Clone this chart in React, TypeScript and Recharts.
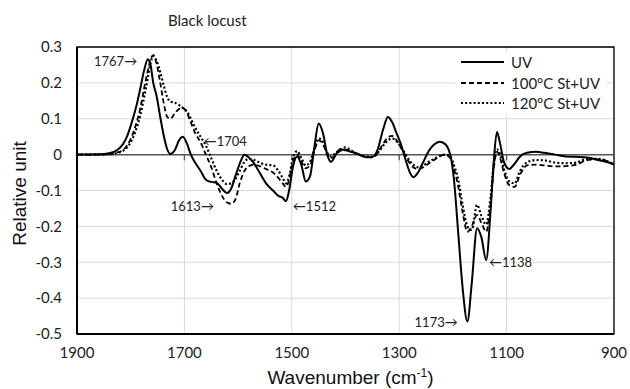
import { LineChart, Line, XAxis, YAxis, CartesianGrid, ReferenceLine, ReferenceArea, ReferenceDot } from 'recharts'

const WAVENUMBER = [
    1900, 1860, 1840, 1825, 1815, 1807, 1798, 1790, 1782, 1775, 1768, 1763, 1758, 1752, 1745, 1738, 1732, 1726, 1718, 1710,
    1703, 1695, 1688, 1680, 1670, 1660, 1650, 1640, 1630, 1621, 1613, 1605, 1597, 1588, 1580, 1570, 1560, 1548, 1535, 1525,
    1517, 1511, 1505, 1498, 1490, 1482, 1474, 1466, 1458, 1450, 1442, 1434, 1427, 1418, 1410, 1400, 1390, 1380, 1370, 1360,
    1349, 1340, 1330, 1321, 1313, 1305, 1297, 1289, 1280, 1274, 1265, 1255, 1245, 1235, 1225, 1215, 1205, 1198, 1190, 1182,
    1173, 1165, 1155, 1147, 1138, 1130, 1124, 1118, 1112, 1105, 1095, 1085, 1075, 1062, 1045, 1030, 1010, 990, 970, 950,
    930, 910, 900,
]

const UV = [
    0, 0.001, 0.004, 0.013, 0.028, 0.05, 0.09, 0.132, 0.185, 0.235, 0.266, 0.25, 0.2, 0.165, 0.105, 0.05, 0.015, 0.002, 0.012, 0.04,
    0.05, 0.03, 0, -0.022, -0.045, -0.07, -0.076, -0.078, -0.095, -0.107, -0.095, -0.06, -0.025, 0, -0.008, -0.025, -0.05, -0.08, -0.1, -0.115,
    -0.12, -0.13, -0.1, -0.035, -0.005, -0.03, -0.075, -0.06, 0.02, 0.087, 0.06, 0, -0.02, 0, 0.015, 0.012, 0.008, 0.004, -0.003, -0.007,
    -0.006, 0.015, 0.07, 0.105, 0.09, 0.06, 0.03, -0.01, -0.05, -0.063, -0.05, -0.02, 0.01, 0.028, 0.036, 0.03, 0, -0.07, -0.22, -0.37,
    -0.465, -0.36, -0.205, -0.23, -0.294, -0.16, -0.02, 0.063, 0.03, -0.02, -0.04, -0.025, -0.005, 0.005, 0.008, 0.005, 0, -0.005, -0.006, -0.008,
    -0.015, -0.022, -0.028,
]

const ST100 = [
    0, 0, 0.002, 0.006, 0.012, 0.025, 0.05, 0.085, 0.13, 0.185, 0.235, 0.265, 0.277, 0.255, 0.2, 0.14, 0.105, 0.1, 0.115, 0.127,
    0.13, 0.115, 0.09, 0.06, 0.035, 0, -0.035, -0.08, -0.115, -0.133, -0.137, -0.125, -0.08, -0.045, -0.032, -0.028, -0.032, -0.04, -0.05, -0.065,
    -0.08, -0.09, -0.07, -0.02, 0, -0.02, -0.038, -0.03, 0.01, 0.04, 0.03, 0, -0.01, 0, 0.01, 0.014, 0.01, 0.003, -0.003, -0.007,
    -0.008, 0.005, 0.03, 0.048, 0.052, 0.04, 0.02, 0, -0.025, -0.035, -0.04, -0.035, -0.025, -0.015, -0.005, 0, -0.01, -0.04, -0.09, -0.16,
    -0.215, -0.2, -0.168, -0.19, -0.215, -0.14, -0.04, 0.008, -0.01, -0.05, -0.085, -0.09, -0.056, -0.03, -0.028, -0.03, -0.033, -0.032, -0.028, -0.015,
    -0.013, -0.02, -0.028,
]

const ST120 = [
    0, 0, 0.001, 0.005, 0.01, 0.02, 0.04, 0.07, 0.11, 0.16, 0.215, 0.255, 0.275, 0.262, 0.23, 0.19, 0.16, 0.148, 0.145, 0.138,
    0.13, 0.12, 0.1, 0.075, 0.05, 0.025, -0.01, -0.045, -0.07, -0.082, -0.08, -0.068, -0.045, -0.02, -0.012, -0.015, -0.022, -0.028, -0.03, -0.045,
    -0.065, -0.08, -0.06, -0.01, 0.01, -0.01, -0.03, -0.02, 0.015, 0.045, 0.035, 0.005, -0.005, 0.005, 0.014, 0.02, 0.012, 0.003, -0.002, -0.005,
    -0.006, 0.005, 0.025, 0.04, 0.045, 0.038, 0.022, 0.003, -0.018, -0.028, -0.035, -0.03, -0.02, -0.012, -0.004, 0, -0.005, -0.03, -0.07, -0.14,
    -0.2, -0.21, -0.14, -0.17, -0.195, -0.12, -0.03, 0.015, 0, -0.04, -0.075, -0.08, -0.045, -0.022, -0.015, -0.016, -0.022, -0.024, -0.022, -0.012,
    -0.012, -0.02, -0.028,
]

const X_TICKS = [1900, 1700, 1500, 1300, 1100, 900]
const ZERO_TICKS = [1700, 1500, 1300, 1100]
const Y_TICKS = [0.3, 0.2, 0.1, 0, -0.1, -0.2, -0.3, -0.4, -0.5]

const SERIES = [
    { key: 'uv', name: 'UV', dash: undefined, width: 2 },
    { key: 'st100', name: '100°C St+UV', dash: '5 3', width: 1.8 },
    { key: 'st120', name: '120°C St+UV', dash: '2 2.2', width: 2.2 },
]

// peak labels: wavenumber / value where the text is anchored
const PEAKS = [
    { wn: 1788, v: 0.261, text: '1767→', anchor: 'end' },
    { wn: 1664, v: 0.038, text: '←1704', anchor: 'start' },
    { wn: 1645, v: -0.143, text: '1613→', anchor: 'end' },
    { wn: 1498, v: -0.143, text: '←1512', anchor: 'start' },
    { wn: 1133, v: -0.3, text: '←1138', anchor: 'start' },
    { wn: 1191, v: -0.466, text: '1173→', anchor: 'end' },
]

const FONT = 'Lato, "Open Sans", sans-serif'
const AXIS_FONT = '"Liberation Sans", Arial, sans-serif'

const data = WAVENUMBER.map((wn, i) => ({ wn, uv: UV[i], st100: ST100[i], st120: ST120[i] }))

export default function App() {
    return (
        <div style={{ position: 'absolute', left: 0, top: 0, width: 630, height: 389, background: '#fff', fontFamily: FONT }}>
            <div style={{ position: 'absolute', left: 168, top: 11, fontSize: 15, color: '#222' }}>Black locust</div>
            <LineChart width={630} height={389} data={data} margin={{ top: 47, right: 16, bottom: 0, left: 0 }}>
                <CartesianGrid stroke="#d9d9d9" strokeWidth={1} />
                <XAxis
                    dataKey="wn"
                    type="number"
                    domain={[900, 1900]}
                    reversed
                    ticks={X_TICKS}
                    allowDataOverflow
                    height={55}
                    tickLine={false}
                    tickSize={0}
                    tickMargin={13}
                    axisLine={{ stroke: '#000', strokeWidth: 2 }}
                    tick={{ fontSize: 15, fill: '#222', fontFamily: FONT }}
                    label={{
                        content: ({ viewBox }: any) => (
                            <text x={viewBox.x + viewBox.width / 2 + 5} y={viewBox.y + 50} textAnchor="middle" fontSize={19} fontFamily={AXIS_FONT} fill="#111">
                                Wavenumber (cm<tspan fontSize={12} dy={-7}>-1</tspan><tspan dy={7}>)</tspan>
                            </text>
                        ),
                    }}
                />
                <YAxis
                    type="number"
                    domain={[-0.5, 0.3]}
                    ticks={Y_TICKS}
                    allowDataOverflow
                    width={77}
                    tickLine={false}
                    tickSize={0}
                    tickMargin={15}
                    axisLine={{ stroke: '#000', strokeWidth: 2 }}
                    tickFormatter={(v: number) => String(v)}
                    tick={{ fontSize: 15, fill: '#222', fontFamily: FONT }}
                    label={{
                        content: ({ viewBox }: any) => (
                            <text
                                x={19}
                                y={viewBox.y + viewBox.height / 2 + 3}
                                transform={`rotate(-90 19 ${viewBox.y + viewBox.height / 2 + 3})`}
                                textAnchor="middle"
                                dominantBaseline="central"
                                fontSize={19}
                                fontFamily={AXIS_FONT}
                                fill="#111"
                            >
                                Relative unit
                            </text>
                        ),
                    }}
                />
                <ReferenceArea x1={1900} x2={900} y1={-0.5} y2={0.3} fill="none" stroke="#000" strokeWidth={1.3} />
                <ReferenceLine y={0} stroke="#555" strokeWidth={1.5} />
                {ZERO_TICKS.map(t => (
                    <ReferenceLine key={t} segment={[{ x: t, y: 0 }, { x: t, y: -0.016 }]} stroke="#555" strokeWidth={1.3} />
                ))}
                {SERIES.map(s => (
                    <Line
                        key={s.key}
                        dataKey={s.key}
                        name={s.name}
                        type="monotone"
                        stroke="#000"
                        strokeWidth={s.width}
                        strokeDasharray={s.dash}
                        dot={false}
                        activeDot={false}
                        isAnimationActive={false}
                    />
                ))}
                {PEAKS.map(p => (
                    <ReferenceDot
                        key={p.text}
                        x={p.wn}
                        y={p.v}
                        r={1}
                        fill="none"
                        stroke="none"
                        label={{
                            content: ({ viewBox }: any) => (
                                <text x={viewBox.x + 1} y={viewBox.y + 1} textAnchor={p.anchor} dominantBaseline="central" fontSize={13} fontFamily={FONT} fill="#222">
                                    {p.text}
                                </text>
                            ),
                        }}
                    />
                ))}
            </LineChart>
            <div style={{ position: 'absolute', left: 455, top: 51, width: 152, background: '#fff', padding: '1px 0' }}>
                {SERIES.map(s => (
                    <div key={s.key} style={{ display: 'flex', alignItems: 'center', height: 20.5, fontSize: 15, color: '#222' }}>
                        <svg width={50} height={10} style={{ marginLeft: 6 }}>
                            <line x1={0} y1={5} x2={43} y2={5} stroke="#000" strokeWidth={s.width} strokeDasharray={s.dash} />
                        </svg>
                        <span style={{ marginLeft: 0 }}>{s.name}</span>
                    </div>
                ))}
            </div>
        </div>
    )
}
